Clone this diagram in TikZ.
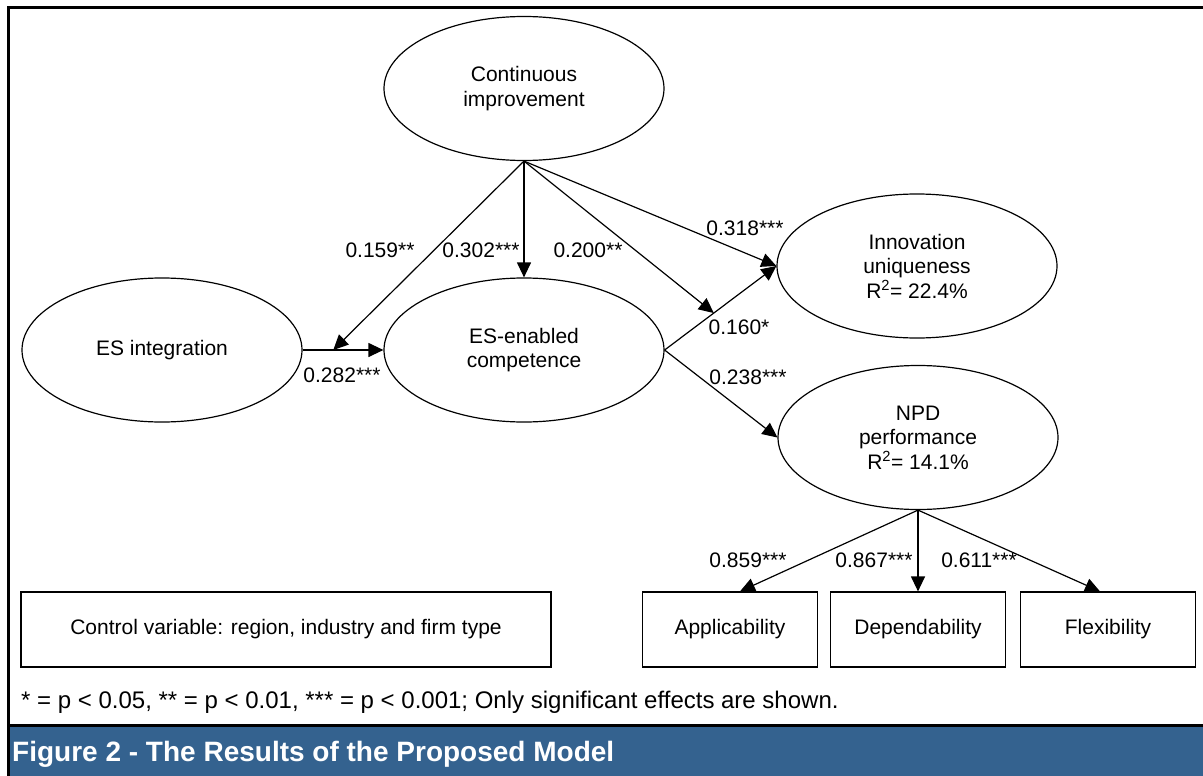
\documentclass[tikz,border=0pt]{standalone}
\usepackage{fontspec}
\setmainfont{Liberation Sans}
\usetikzlibrary{arrows.meta,shapes.geometric,calc}
\definecolor{capblue}{RGB}{52,98,143}
\begin{document}
\begin{tikzpicture}[x=1bp,y=-1bp,
  every node/.style={font=\fontsize{21bp}{24.5bp}\selectfont, inner sep=0pt},
  latent/.style={draw, line width=1.2bp, ellipse, minimum width=280bp, minimum height=144bp, align=center},
  obsbox/.style={draw, line width=1.2bp, rectangle, minimum width=175bp, minimum height=75bp},
  causal/.style={draw, line width=1.2bp, -{Triangle[length=15bp,width=14bp]}},
  frameline/.style={line width=3bp}]
\useasboundingbox (0,0) rectangle (1203,776);
% caption bar and frame
\fill[capblue] (8,725) rectangle (1203,776);
\draw[frameline] (8,776) -- (8,8) -- (1203,8);
\draw[frameline] (8,725.5) -- (1203,725.5);
% latent variables
\node[latent] (ci) at (524,88.5) {Continuous\\improvement};
\node[latent] (esi) at (162,350) {ES integration};
\node[latent] (esc) at (524,350) {ES-enabled\\competence};
\node[latent] (iu) at (917,266) {Innovation\\uniqueness\\R\textsuperscript{2}= 22.4\%};
\node[latent] (npd) at (918,437.5) {NPD\\performance\\R\textsuperscript{2}= 14.1\%};
% observed
\node[obsbox] (app) at (730,629.5) {Applicability};
\node[obsbox] (dep) at (918,629.5) {Dependability};
\node[obsbox] (flex) at (1108,629.5) {Flexibility};
\node[draw, line width=1.2bp, minimum width=530bp, minimum height=75bp] (ctrl) at (286,629.5) {Control variable: region, industry and firm type};
% moderation points
\coordinate (m1) at ($(esi.east)!0.38!(esc.west)$);
\coordinate (m2) at ($(esc.east)!0.44!(iu.west)$);
% paths
\draw[causal] (esi.east) -- (esc.west);
\draw[causal] (ci.south) -- (m1);
\draw[causal] (ci.south) -- (esc.north);
\draw[causal] (ci.south) -- (m2);
\draw[causal] (ci.south) -- (iu.west);
\draw[causal] (esc.east) -- (iu.west);
\draw[causal] (esc.east) -- (npd.west);
\draw[causal] (npd.south) -- ([xshift=10bp]app.north);
\draw[causal] (npd.south) -- (dep.north);
\draw[causal] (npd.south) -- ([xshift=-8bp]flex.north);
% coefficients
\node (c1) at (380,250) {0.159**};
\node (c2) at (481,250) {0.302***};
\node (c3) at (588,250) {0.200**};
\node (c4) at (745,228) {0.318***};
\node (c5) at (739,327) {0.160*};
\node (c6) at (748,377) {0.238***};
\node (c7) at (342,375) {0.282***};
\node (c8) at (748,560) {0.859***};
\node (c9) at (874,560) {0.867***};
\node (c10) at (979,560) {0.611***};
% footnote and caption
\node[anchor=base west, font=\fontsize{24bp}{28bp}\selectfont] (foot) at (21,708) {* = p < 0.05, ** = p < 0.01, *** = p < 0.001; Only significant effects are shown.};
\node[anchor=base west, text=white, font=\fontsize{28bp}{32bp}\selectfont\bfseries] (cap) at (12,761) {Figure 2 - The Results of the Proposed Model};
\end{tikzpicture}
\end{document}
